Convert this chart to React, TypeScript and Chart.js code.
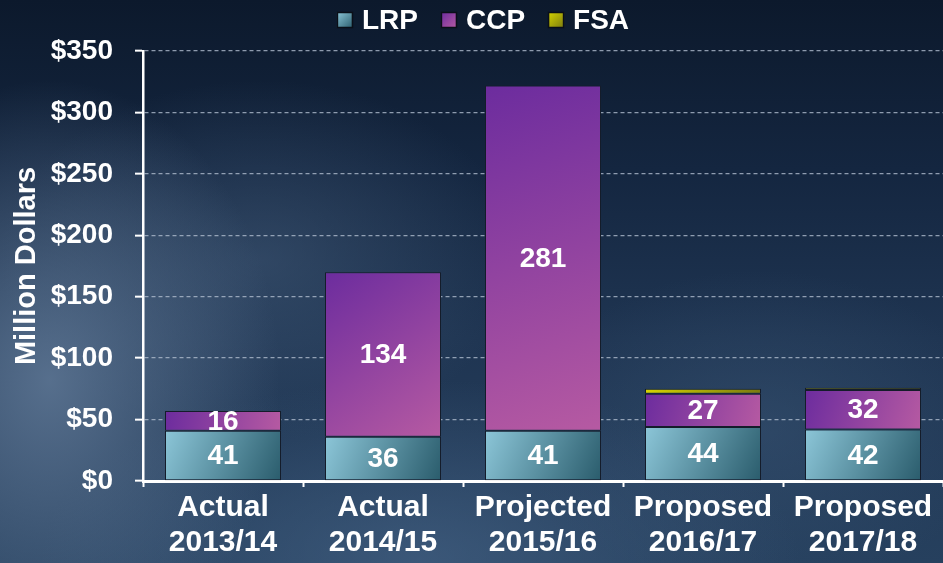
import React, { useEffect, useRef } from "react";
import { Chart, registerables } from "chart.js";

Chart.register(...registerables);

const categories: string[][] = [
  ["Actual", "2013/14"],
  ["Actual", "2014/15"],
  ["Projected", "2015/16"],
  ["Proposed", "2016/17"],
  ["Proposed", "2017/18"],
];
const seriesNames = ["LRP", "CCP", "FSA"];
const lrpValues = [41, 36, 41, 44, 42];
const ccpValues = [16, 134, 281, 27, 32];
const fsaValues = [0, 0, 0, 4, 2];
const yTicks = [0, 50, 100, 150, 200, 250, 300, 350];

const BAR_PCT = 0.725;
const FONT = "Arial, 'Liberation Sans', sans-serif";

const gradStops: Record<number, [string, string]> = {
  0: ["#8cc6d8", "#2a5c6c"],
  1: ["#6c2c9e", "#b65aa2"],
  2: ["#d6d400", "#7a7a10"],
};
const solid: Record<number, string> = { 0: "#6aa8ba", 1: "#9040a8", 2: "#c8c810" };

function fillFor(ctx: any): any {
  const chart = ctx.chart;
  const di = ctx.datasetIndex;
  if (ctx.type !== "data" || !chart.chartArea || !chart.scales.x || !chart.scales.y) {
    return solid[di];
  }
  const i = ctx.dataIndex;
  const xs = chart.scales.x;
  const ys = chart.scales.y;
  const cx = xs.getPixelForValue(i);
  const half = (xs.width / categories.length) * BAR_PCT / 2;
  let base = 0;
  for (let d = 0; d < di; d++) base += chart.data.datasets[d].data[i] as number;
  const v = chart.data.datasets[di].data[i] as number;
  const top = ys.getPixelForValue(base + v);
  const bot = ys.getPixelForValue(base);
  const g = chart.ctx.createLinearGradient(cx - half, top, cx + half, Math.max(bot, top + 1));
  g.addColorStop(0, gradStops[di][0]);
  g.addColorStop(1, gradStops[di][1]);
  return g;
}

const labelPlugin = {
  id: "segLabels",
  afterDatasetsDraw(chart: any) {
    const c = chart.ctx;
    c.save();
    c.fillStyle = "#ffffff";
    c.font = `bold 28px ${FONT}`;
    c.textAlign = "center";
    c.textBaseline = "middle";
    [0, 1].forEach((di) => {
      const meta = chart.getDatasetMeta(di);
      meta.data.forEach((el: any, i: number) => {
        const v = chart.data.datasets[di].data[i];
        if (!v) return;
        const y = (el.y + el.base) / 2 + 1;
        c.fillText(String(v), el.x, y);
      });
    });
    c.restore();
  },
};

const legendPlugin = {
  id: "customLegend",
  afterDraw(chart: any) {
    const c = chart.ctx;
    c.save();
    c.font = `bold 28px ${FONT}`;
    c.textBaseline = "alphabetic";
    c.textAlign = "left";
    const box = 16;
    const gapBoxText = 9;
    const gapItems = 23;
    const widths = seriesNames.map((t) => c.measureText(t).width);
    const total = widths.reduce((a, w) => a + box + gapBoxText + w, 0) + gapItems * (seriesNames.length - 1);
    let x = 483 - total / 2;
    const boxTop = 12;
    seriesNames.forEach((t, k) => {
      const g = c.createLinearGradient(x, boxTop, x + box, boxTop + box);
      g.addColorStop(0, gradStops[k][0]);
      g.addColorStop(1, gradStops[k][1]);
      c.fillStyle = g;
      c.fillRect(x, boxTop, box, box);
      c.strokeStyle = "#0a0f18";
      c.lineWidth = 1.5;
      c.strokeRect(x + 0.5, boxTop + 0.5, box - 1, box - 1);
      x += box + gapBoxText;
      c.fillStyle = "#ffffff";
      c.fillText(t, x, 29);
      x += widths[k] + gapItems;
    });
    c.restore();
  },
};

export default function App() {
  const ref = useRef<HTMLCanvasElement | null>(null);
  useEffect(() => {
    document.body.style.margin = "0";
    if (!ref.current) return;
    const common = {
      borderColor: "#141c2a",
      borderWidth: 1,
      borderSkipped: false,
      barPercentage: BAR_PCT,
      categoryPercentage: 1,
      backgroundColor: fillFor,
    };
    const chart = new Chart(ref.current, {
      type: "bar",
      data: {
        labels: categories,
        datasets: [
          { label: seriesNames[0], data: lrpValues, ...common },
          { label: seriesNames[1], data: ccpValues, ...common },
          { label: seriesNames[2], data: fsaValues, ...common },
        ],
      },
      plugins: [labelPlugin, legendPlugin],
      options: {
        animation: false,
        responsive: false,
        layout: { padding: { left: 0, right: 0, top: 51, bottom: 0 } },
        plugins: {
          tooltip: { enabled: false },
          legend: { display: false },
        },
        scales: {
          x: {
            stacked: true,
            afterFit: (s: any) => {
              s.height = 82;
            },
            grid: {
              offset: true,
              drawOnChartArea: false,
              drawTicks: true,
              tickLength: 6,
              tickColor: "#ffffff",
              tickWidth: 2,
            },
            border: { color: "#ffffff", width: 3 },
            ticks: {
              color: "#ffffff",
              font: { family: FONT, size: 30, weight: "bold", lineHeight: 1.18 },
              padding: 3,
              maxRotation: 0,
              autoSkip: false,
            },
          },
          y: {
            stacked: true,
            min: 0,
            max: 350,
            afterBuildTicks: (s: any) => {
              s.ticks = yTicks.map((v) => ({ value: v }));
            },
            afterFit: (s: any) => {
              s.width = 143;
            },
            grid: {
              color: (c: any) => (c.tick && c.tick.value === 0 ? "rgba(0,0,0,0)" : "rgba(175,188,205,0.8)"),
              lineWidth: 1.3,
              tickLength: 8,
              tickColor: "#ffffff",
              tickWidth: 2,
              tickBorderDash: [],
            },
            border: { color: "#ffffff", width: 2.5, dash: [4, 3] },
            ticks: {
              color: "#ffffff",
              font: { family: FONT, size: 28, weight: "bold" },
              padding: 22,
              callback: (v: any) => "$" + v,
            },
            title: {
              display: true,
              text: "Million Dollars",
              color: "#ffffff",
              font: { family: FONT, size: 29, weight: "bold", lineHeight: 1 },
              padding: { top: 12, bottom: 4 },
            },
          },
        },
      },
    });
    return () => chart.destroy();
  }, []);

  const bg = [
    "radial-gradient(ellipse 230px 300px at 50px 380px, rgba(100,125,155,0.8), rgba(100,125,155,0) 100%)",
    "radial-gradient(ellipse 380px 180px at 420px 560px, rgba(70,100,135,0.65), rgba(70,100,135,0) 100%)",
    "radial-gradient(ellipse 260px 180px at 260px 260px, rgba(70,95,125,0.5), rgba(70,95,125,0) 100%)",
    "radial-gradient(ellipse 240px 160px at 760px 430px, rgba(60,88,120,0.45), rgba(60,88,120,0) 100%)",
    "linear-gradient(180deg, #0c192c 0%, #142640 30%, #1f3552 60%, #26405e 100%)",
  ].join(", ");

  return (
    <div style={{ width: 943, height: 563, background: bg, position: "relative" }}>
      <canvas ref={ref} width={943} height={563} style={{ display: "block" }} />
    </div>
  );
}
